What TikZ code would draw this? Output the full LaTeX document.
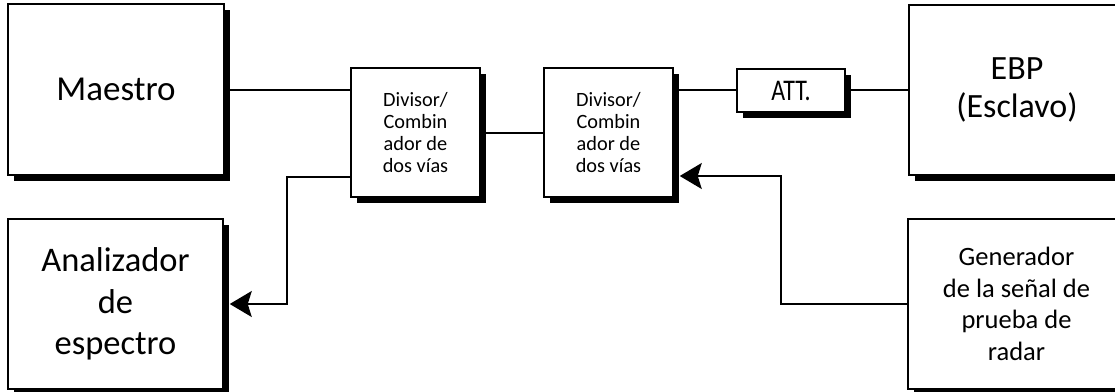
\documentclass[tikz,border=0pt]{standalone}
\usepackage{fontspec}
\setmainfont{Carlito}
\usetikzlibrary{arrows.meta,shadows,calc}
\begin{document}
\begin{tikzpicture}[x=1pt,y=-1pt,
  blk/.style={draw=black,line width=1.5pt,fill=white,rectangle,inner sep=0pt,align=center,
    drop shadow={shadow xshift=5.5pt,shadow yshift=-6pt,fill=black,opacity=1}},
  big/.style={font=\fontsize{34.5}{41.7}\selectfont},
  mid/.style={font=\fontsize{26.5}{31.7}\selectfont},
  sml/.style={font=\fontsize{20.3}{22.3}\selectfont},
  wire/.style={line width=1.4pt},
  arr/.style={wire,-{Stealth[length=22pt,width=26pt,inset=4pt]}}]
\useasboundingbox (0,0) rectangle (1115,391);
\fill[white] (0,0) rectangle (1115,391);
% blocks
\node[blk,font=\fontsize{35}{40}\selectfont,minimum width=216pt,minimum height=171pt] (mae) at (116,89.5) {Maestro};
\node[blk,sml,minimum width=129pt,minimum height=129pt] (d1) at (415.5,132.5) {Divisor/\\Combin\\ador de\\dos vías};
\node[blk,sml,minimum width=129pt,minimum height=129pt] (d2) at (608.5,132.5) {Divisor/\\Combin\\ador de\\dos vías};
\node[blk,font=\fontsize{30}{32}\selectfont,minimum width=108pt,minimum height=43pt] (att) at (791,90.5) {\scalebox{0.8}[1]{ATT.}};
\node[blk,font=\fontsize{34}{38}\selectfont,minimum width=216pt,minimum height=170pt] (ebp) at (1017,90) {EBP\\(Esclavo)};
\node[blk,big,minimum width=215pt,minimum height=170pt] (ana) at (115.5,304) {Analizador\\de\\espectro};
\node[blk,mid,minimum width=217pt,minimum height=170pt] (gen) at (1016.5,304) {Generador\\de la señal de\\prueba de\\radar};
% junction points
\coordinate (j1) at (287,177);
\coordinate (j2) at (781,176);
% wires
\draw[wire] ([xshift=5pt]mae.east |- 0,90) -- (d1.west |- 0,90);
\draw[wire] ([xshift=5pt]d1.east |- 0,133) -- (d2.west |- 0,133);
\draw[wire] ([xshift=5pt]d2.east |- 0,90) -- (att.west |- 0,90);
\draw[wire] ([xshift=5pt]att.east |- 0,90) -- (ebp.west |- 0,90);
\draw[arr] (d1.west |- j1) -- (j1) -- (287,304) -- ([xshift=6pt]ana.east |- 0,304);
\draw[arr] (gen.west) -- (781,304) -- (j2) -- ([xshift=6pt]d2.east |- j2);
\end{tikzpicture}
\end{document}
